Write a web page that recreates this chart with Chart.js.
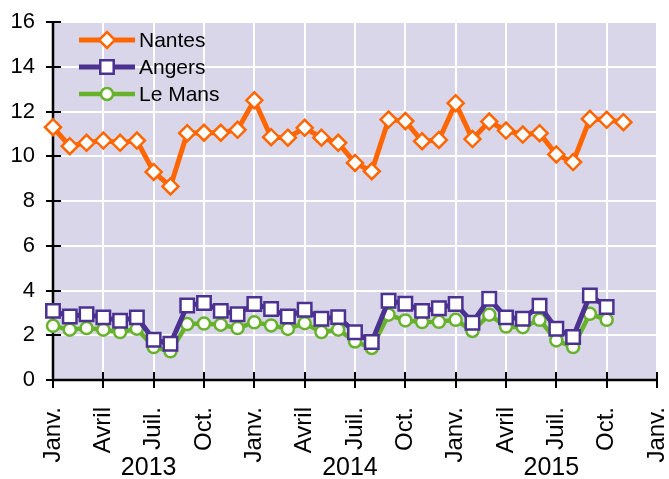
<!DOCTYPE html>
<html>
<head>
<meta charset="utf-8">
<script src="https://cdn.jsdelivr.net/npm/chart.js@4.4.1/dist/chart.umd.min.js"></script>
<style>
  html, body { margin: 0; padding: 0; background: #fff; }
  #chart { display: block; }
</style>
</head>
<body>
<canvas id="chart" width="669" height="479"></canvas>
<script>
// Données (mois depuis janv. 2013)
const monthTicks = ['Janv.', 'Avril', 'Juil.', 'Oct.'];
const years = ['2013', '2014', '2015'];
const seriesNames = ['Nantes', 'Angers', 'Le Mans'];

const nantes = [11.3, 10.45, 10.6, 10.7, 10.6, 10.7, 9.3, 8.65, 11.03, 11.05, 11.05, 11.18,
    12.5, 10.85, 10.83, 11.27, 10.83, 10.6, 9.7, 9.33, 11.64, 11.57, 10.67, 10.73,
    12.37, 10.77, 11.55, 11.15, 10.97, 11.03, 10.08, 9.74, 11.67, 11.63, 11.52];
const angers = [3.09, 2.84, 2.94, 2.8, 2.65, 2.8, 1.8, 1.62, 3.33, 3.44, 3.09, 2.94,
    3.4, 3.17, 2.84, 3.14, 2.74, 2.81, 2.13, 1.7, 3.54, 3.41, 3.09, 3.21,
    3.4, 2.56, 3.63, 2.8, 2.74, 3.32, 2.29, 1.92, 3.78, 3.26];
const leMans = [2.42, 2.25, 2.32, 2.25, 2.14, 2.29, 1.47, 1.28, 2.5, 2.52, 2.47, 2.32,
    2.58, 2.44, 2.28, 2.54, 2.14, 2.25, 1.72, 1.43, 2.92, 2.66, 2.59, 2.6,
    2.69, 2.19, 2.92, 2.39, 2.36, 2.69, 1.77, 1.47, 2.96, 2.69];

const FONT = '"Liberation Sans", Arial, sans-serif';
const toPoints = arr => arr.map((v, i) => ({ x: i, y: v }));

// dessine un marqueur (losange, carré, cercle)
function drawMarker(ctx, style, x, y, r) {
    ctx.beginPath();
    if (style === 'rectRot') {
        ctx.moveTo(x, y - r);
        ctx.lineTo(x + r, y);
        ctx.lineTo(x, y + r);
        ctx.lineTo(x - r, y);
        ctx.closePath();
    } else if (style === 'rect') {
        const s = r * Math.SQRT1_2;
        ctx.rect(x - s, y - s, 2 * s, 2 * s);
    } else {
        ctx.arc(x, y, r, 0, Math.PI * 2);
    }
    ctx.fill();
    ctx.stroke();
}

const decorPlugin = {
    id: 'decor',
    beforeDraw(chart) {
        const { ctx, chartArea: a } = chart;
        ctx.save();
        ctx.fillStyle = '#d9d6e9';
        ctx.fillRect(a.left, a.top, a.right - a.left, a.bottom - a.top);
        ctx.restore();
    },
    beforeDatasetsDraw(chart) {
        const { ctx, chartArea: a, scales } = chart;
        ctx.save();
        ctx.strokeStyle = '#000';
        ctx.lineWidth = 2.5;
        ctx.beginPath();
        ctx.moveTo(a.left, a.top - 1);
        ctx.lineTo(a.left, a.bottom);
        ctx.lineTo(a.right + 1, a.bottom);
        ctx.stroke();
        // demi-graduations à l'intérieur
        ctx.lineWidth = 2;
        ctx.beginPath();
        scales.x.ticks.forEach(t => {
            const px = Math.round(scales.x.getPixelForValue(t.value));
            ctx.moveTo(px, a.bottom - 8);
            ctx.lineTo(px, a.bottom);
        });
        scales.y.ticks.forEach(t => {
            const py = Math.round(scales.y.getPixelForValue(t.value));
            ctx.moveTo(a.left, py);
            ctx.lineTo(a.left + 8, py);
        });
        ctx.stroke();
        ctx.restore();
    },
    afterDraw(chart) {
        const { ctx, scales } = chart;
        ctx.save();
        // années sous l'axe
        ctx.fillStyle = '#000';
        ctx.font = '25px ' + FONT;
        ctx.textAlign = 'center';
        ctx.textBaseline = 'middle';
        years.forEach((yr, i) => {
            ctx.fillText(yr, scales.x.getPixelForValue(i * 12 + 5.7), 468);
        });
        // légende
        chart.data.datasets.forEach((ds, i) => {
            const y = 40 + i * 27;
            ctx.strokeStyle = ds.borderColor;
            ctx.lineWidth = ds.borderWidth;
            ctx.beginPath();
            ctx.moveTo(79, y);
            ctx.lineTo(135, y);
            ctx.stroke();
            ctx.fillStyle = '#fff';
            ctx.lineWidth = ds.pointBorderWidth;
            drawMarker(ctx, ds.pointStyle, 107, y, ds.pointRadius);
            ctx.fillStyle = '#000';
            ctx.font = '21px ' + FONT;
            ctx.textAlign = 'left';
            ctx.textBaseline = 'middle';
            ctx.fillText(ds.label, 139, y + 1);
        });
        ctx.restore();
    }
};

function makeDataset(label, values, color, style, radius, width) {
    return {
        label: label,
        data: toPoints(values),
        borderColor: color,
        borderWidth: width,
        pointStyle: style,
        pointRadius: radius,
        pointBorderWidth: 2.5,
        pointBackgroundColor: '#fff',
        pointBorderColor: color,
        clip: false,
        tension: 0
    };
}

new Chart(document.getElementById('chart'), {
    type: 'line',
    data: {
        datasets: [
            makeDataset(seriesNames[0], nantes, '#ff6600', 'rectRot', 8, 5),
            makeDataset(seriesNames[1], angers, '#4b3291', 'rect', 9.5, 5),
            makeDataset(seriesNames[2], leMans, '#67b22b', 'circle', 6, 4.5)
        ]
    },
    options: {
        responsive: false,
        animation: false,
        layout: { padding: { top: 22, right: 11, left: 0, bottom: 0 } },
        plugins: {
            legend: { display: false },
            tooltip: { enabled: false }
        },
        scales: {
            x: {
                type: 'linear',
                min: 0,
                max: 36,
                ticks: {
                    stepSize: 3,
                    autoSkip: false,
                    maxRotation: 90,
                    minRotation: 90,
                    padding: 19,
                    color: '#000',
                    font: { family: FONT, size: 24 },
                    callback: v => monthTicks[Math.round(v / 3) % 4]
                },
                grid: { color: '#fff', lineWidth: 2, tickColor: '#000', tickLength: 8, tickWidth: 2 },
                border: { display: false },
                afterFit: s => { s.height = 99; s.paddingLeft = 0; s.paddingRight = 0; }
            },
            y: {
                min: 0,
                max: 16,
                ticks: {
                    stepSize: 2,
                    padding: 11,
                    color: '#000',
                    font: { family: FONT, size: 22 }
                },
                grid: { color: '#fff', lineWidth: 2, tickColor: '#000', tickLength: 7, tickWidth: 2 },
                border: { display: false },
                afterFit: s => { s.width = 53; s.paddingTop = 0; s.paddingBottom = 0; }
            }
        }
    },
    plugins: [decorPlugin]
});
</script>
</body>
</html>
